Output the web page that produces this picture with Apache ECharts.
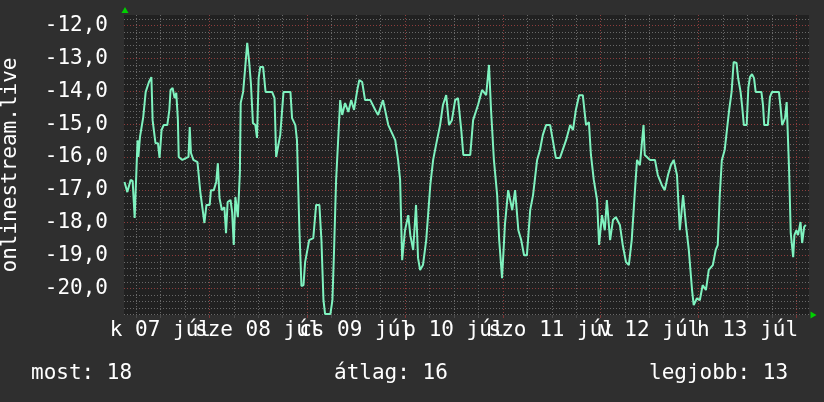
<!DOCTYPE html>
<html>
<head>
<meta charset="utf-8">
<script src="https://cdn.jsdelivr.net/npm/echarts@6/dist/echarts.min.js"></script>
<style>
    html, body { margin: 0; padding: 0; background: #2f2f2f; }
    #chart { width: 824px; height: 402px; }
</style>
</head>
<body>
<div id="chart"></div>
<script>
    // hours since 2015-07-07 00:00
    var hours = [
        3.2, 3.9, 4.7, 5.2, 5.7, 6.1, 6.4, 6.6, 7.0, 7.8, 8.4, 9.2, 9.8, 10.1, 10.8, 11.4, 11.8, 12.3, 12.8, 13.7,
        14.2, 14.5, 15.0, 15.5, 15.9, 16.3, 16.5, 17.4, 18.4, 18.9, 19.2, 19.5, 20.1, 21.1, 21.8, 22.8, 23.3, 24.1, 24.4, 25.1,
        25.7, 26.1, 26.5, 27.1, 27.7, 28.1, 28.5, 29.2, 29.6, 30.0, 30.4, 31.0, 31.5, 31.7, 32.3, 32.8, 33.3, 33.8, 34.2, 34.7,
        35.3, 35.7, 36.1, 36.5, 37.2, 37.8, 39.4, 40.0, 40.4, 41.4, 42.2, 43.9, 44.3, 45.1, 45.5, 46.1, 46.6, 47.1, 47.5, 48.5,
        49.5, 50.2, 51.0, 51.5, 52.0, 52.4, 53.7, 54.2, 54.6, 55.1, 55.6, 56.1, 56.6, 57.3, 58.1, 58.8, 59.5, 60.3, 60.8, 61.5,
        62.2, 63.5, 64.7, 65.4, 66.6, 67.9, 69.6, 70.3, 70.8, 71.3, 72.0, 72.8, 73.3, 74.0, 74.7, 75.2, 75.7, 76.4, 77.2, 78.2,
        78.9, 79.6, 80.6, 81.3, 82.1, 82.8, 83.5, 84.3, 85.0, 85.8, 86.3, 88.0, 88.7, 89.9, 90.9, 91.9, 92.6, 93.1, 93.8, 94.6,
        95.1, 95.8, 96.5, 97.3, 98.3, 99.0, 99.8, 100.5, 101.2, 101.9, 102.7, 103.4, 104.4, 105.1, 105.8, 106.6, 107.6, 109.0, 110.0, 111.5,
        112.5, 113.2, 113.9, 114.7, 115.6, 116.4, 117.1, 117.6, 118.3, 119.1, 119.6, 120.3, 121.0, 121.5, 122.3, 123.0, 123.7, 124.7, 125.4, 126.2,
        126.9, 127.6, 128.4, 128.9, 129.6, 130.5, 130.8, 132.1, 133.3, 134.0, 135.0, 135.7, 136.5, 137.2, 137.9, 138.7, 139.4, 140.2, 140.9, 141.6,
        142.4, 142.8, 143.6, 144.3, 145.0, 145.8, 146.5, 147.5, 148.2, 148.7, 149.2, 149.7, 150.4, 151.5, 152.1, 152.6, 153.3, 153.7, 154.3, 154.7,
        155.1, 155.8, 156.2, 156.6, 157.1, 157.6, 158.0, 159.4, 159.8, 160.1, 161.0, 161.5, 162.0, 163.7, 164.1, 164.5, 164.9, 165.2, 165.6, 165.8,
        166.2, 166.6, 167.2, 167.5, 168.0, 168.4, 169.0, 169.4, 169.9, 170.3
    ];
    var values = [
        -16.76, -17.07, -16.70, -16.73, -17.86, -17.89, -15.49, -16.00, -15.39, -14.79, -14.02, -13.72, -13.57, -14.88, -15.58, -15.58, -16.03, -15.18, -15.03, -15.03,
        -14.57, -13.96, -13.90, -14.21, -14.05, -14.88, -16.00, -16.09, -16.03, -16.00, -15.09, -15.88, -16.09, -16.16, -17.07, -18.01, -17.46, -17.46, -17.01, -17.01,
        -16.76, -16.19, -17.25, -17.62, -17.53, -18.32, -17.37, -17.31, -17.68, -18.68, -17.22, -17.83, -16.49, -14.36, -14.02, -13.29, -12.53, -13.14, -13.75, -14.97,
        -15.03, -15.42, -13.60, -13.26, -13.26, -14.02, -14.02, -14.21, -16.00, -15.33, -14.02, -14.02, -14.82, -15.03, -15.49, -18.23, -19.93, -19.90, -19.20, -18.53,
        -18.47, -17.46, -17.46, -18.53, -20.36, -20.78, -20.78, -20.36, -18.83, -16.70, -15.49, -14.27, -14.72, -14.36, -14.63, -14.27, -14.57, -13.96, -13.66, -13.72,
        -14.27, -14.27, -14.57, -14.72, -14.27, -15.03, -15.49, -16.09, -16.70, -19.14, -18.23, -17.77, -18.38, -18.83, -17.46, -19.08, -19.44, -19.29, -18.53, -16.86,
        -16.09, -15.64, -15.03, -14.42, -14.12, -15.03, -14.88, -14.27, -14.21, -15.18, -15.94, -15.94, -14.88, -14.42, -13.96, -14.12, -13.20, -14.57, -16.09, -17.16,
        -18.53, -19.69, -18.07, -17.01, -17.62, -17.01, -18.23, -18.53, -18.99, -18.99, -17.62, -17.16, -16.09, -15.79, -15.33, -15.03, -15.03, -16.03, -16.03, -15.49,
        -15.03, -15.18, -14.57, -14.12, -14.12, -15.03, -14.94, -15.94, -16.70, -17.31, -18.68, -17.77, -18.23, -17.31, -18.53, -17.92, -17.83, -18.07, -18.68, -19.20,
        -19.29, -18.53, -17.01, -16.09, -16.25, -15.03, -15.94, -16.09, -16.09, -16.55, -16.86, -17.01, -16.55, -16.25, -16.09, -16.55, -18.23, -17.16, -18.07, -18.83,
        -20.05, -20.51, -20.30, -20.36, -19.90, -20.05, -19.44, -19.29, -18.83, -18.68, -17.16, -16.10, -15.79, -14.57, -14.02, -13.11, -13.14, -13.60, -14.02, -14.48,
        -15.03, -15.03, -13.90, -13.57, -13.48, -13.60, -14.02, -14.02, -14.42, -15.03, -15.03, -14.18, -14.02, -14.02, -14.48, -15.03, -15.03, -14.82, -14.33, -14.33,
        -16.40, -18.32, -19.05, -18.38, -18.23, -18.38, -17.98, -18.62, -18.13, -18.07
    ];

    var dayLabels = ['k 07 júl', 'sze 08 júl', 'cs 09 júl', 'p 10 júl', 'szo 11 júl', 'v 12 júl', 'h 13 júl'];
    var labelHours = [12, 36, 60, 84, 108, 132, 156];
    var midnightHours = [24, 48, 72, 96, 120, 144, 168];
    var yLabels = [-20, -19, -18, -17, -16, -15, -14, -13, -12];
    var legendTexts = ['most: 18', 'átlag: 16', 'legjobb: 13'];

    // grid lines: every 6 hours, every 0.2 on the value axis
    var gridHours = [];
    for (var h = 6; h <= 168; h += 6) gridHours.push(h);
    var gridValues = [];
    for (var k = 0; k <= 45; k++) gridValues.push(Math.round((-20.8 + k * 0.2) * 10) / 10);

    var minor = '#686868';
    var major = '#8c3c3c';
    var font = 'DejaVu Sans Mono';

    // day labels overlap like in rrdtool; split them over two stacked axes so none get hidden
    function dayAxis(parity, ticks, tickColor, withGrid) {
        return {
            type: 'value',
            position: 'bottom',
            min: 3.08,
            max: 171.08,
            axisLine: { show: false },
            axisTick: {
                show: true,
                customValues: ticks,
                length: 3,
                lineStyle: { color: tickColor, width: 1 }
            },
            axisLabel: {
                customValues: labelHours.filter(function (v, i) { return i % 2 === parity; }),
                showMinLabel: true,
                showMaxLabel: true,
                margin: 5,
                color: '#ffffff',
                fontFamily: font,
                fontSize: 21,
                formatter: function (v) {
                    var i = labelHours.indexOf(Math.round(v));
                    return i >= 0 ? dayLabels[i] : '';
                }
            },
            splitLine: {
                show: withGrid,
                lineStyle: { color: [minor, minor, minor, major], type: [1, 2], width: 1 }
            }
        };
    }

    var chart = echarts.init(document.getElementById('chart'));
    chart.setOption({
        backgroundColor: '#2f2f2f',
        animation: false,
        grid: {
            left: 124,
            top: 15,
            width: 685,
            height: 300,
            show: true,
            backgroundColor: '#212121',
            borderWidth: 0,
            outerBoundsMode: 'none'
        },
        xAxis: [
            dayAxis(0, gridHours, '#4a4a4a', true),
            dayAxis(1, midnightHours, '#7a3434', false)
        ],
        yAxis: {
            type: 'value',
            min: -20.81,
            max: -11.68,
            axisLine: { show: false },
            axisTick: { show: false, customValues: gridValues },
            axisLabel: {
                customValues: yLabels,
                showMinLabel: true,
                showMaxLabel: true,
                margin: 16,
                color: '#ffffff',
                fontFamily: font,
                fontSize: 21,
                formatter: function (v) {
                    return v.toFixed(1).replace('.', ',');
                }
            },
            splitLine: {
                show: true,
                lineStyle: { color: [minor, minor, minor, minor, major], type: [1, 2], width: 1 }
            }
        },
        series: [{
            type: 'line',
            xAxisIndex: 0,
            data: hours.map(function (h, i) { return [h, values[i]]; }),
            showSymbol: false,
            symbol: 'none',
            lineStyle: { color: '#7ff2bf', width: 2 },
            z: 5
        }],
        graphic: [
            {
                type: 'text', x: 11, y: 165, rotation: Math.PI / 2,
                style: { text: 'onlinestream.live', fill: '#ffffff', font: '21px "DejaVu Sans Mono"', align: 'center', verticalAlign: 'middle' }
            },
            {
                type: 'text', left: 31, top: 363,
                style: { text: legendTexts[0], fill: '#ffffff', font: '21px "DejaVu Sans Mono"' }
            },
            {
                type: 'text', left: 334, top: 363,
                style: { text: legendTexts[1], fill: '#ffffff', font: '21px "DejaVu Sans Mono"' }
            },
            {
                type: 'text', left: 649, top: 363,
                style: { text: legendTexts[2], fill: '#ffffff', font: '21px "DejaVu Sans Mono"' }
            },
            {
                type: 'polygon',
                shape: { points: [[125, 7], [121.5, 13], [128.5, 13]] },
                style: { fill: '#00d000' }
            },
            {
                type: 'polygon',
                shape: { points: [[816.5, 315], [810.5, 311.5], [810.5, 318.5]] },
                style: { fill: '#00d000' }
            }
        ]
    });
</script>
</body>
</html>
